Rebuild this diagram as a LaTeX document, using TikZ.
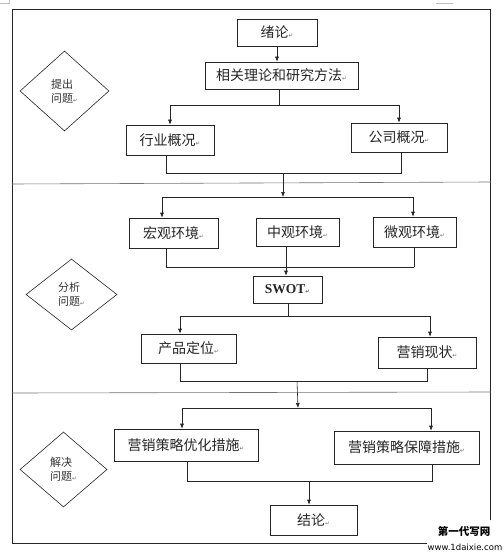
\documentclass[tikz,border=0pt]{standalone}
\usepackage{fontspec}
\newfontfamily\cjk{Noto Sans CJK SC}
\newfontfamily\symf{DejaVu Sans}
\newfontfamily\tnr{Liberation Serif}
\usetikzlibrary{arrows.meta,shapes.geometric}
\newcommand{\parmk}{{\symf\fontsize{5.5}{5.5}\selectfont\textcolor{black!60}{↵}}}
\begin{document}
\begin{tikzpicture}[x=1pt,y=-1pt,
  ln/.style={line width=0.6pt, draw=black!85},
  arr/.style={ln, -{Latex[length=5pt,width=4pt]}},
  box/.style={draw=black!85, line width=0.6pt, inner sep=0pt, text=black!85,
    font=\cjk\fontsize{14}{16}\selectfont},
  dia/.style={draw=black!85, diamond, line width=0.6pt, inner sep=0pt, align=left, text=black!80,
    font=\cjk\fontsize{11}{14}\selectfont},
  sep/.style={line width=0.6pt, draw=black!55},
  crop/.style={line width=0.5pt, draw=black!25}]
\useasboundingbox (0,0) rectangle (503,559);
\fill[white] (0,0) rectangle (503,559);
% crop marks
\draw[crop] (0,3) -- (9,3) -- (9,0);
\draw[crop] (436,3) -- (453,3);
% frame
\draw[ln] (490.7,520) -- (490.7,9.5) -- (12,9.5) -- (12,543) -- (497,543);
\draw[sep] (12,184) -- (490.7,182);
\draw[sep] (12,393) -- (490.7,392);

% section 1
\node[box, minimum width=80pt, minimum height=27pt] (intro) at (277,32.5) {绪论\parmk};
\node[box, minimum width=153pt, minimum height=27pt] (theory) at (281.5,75.5) {相关理论和研究方法\parmk};
\node[box, minimum width=88pt, minimum height=30pt] (industry) at (170,140) {行业概况\parmk};
\node[box, minimum width=96pt, minimum height=29pt] (company) at (399,137.5) {公司概况\parmk};
\node[dia, minimum width=89pt, minimum height=80pt] (d1) at (64.5,91) {提出\\问题\parmk};

\draw[arr] (intro.south) -- (intro.south |- theory.north);
\coordinate (j1) at (279,105);
\draw[ln] (j1 |- theory.south) -- (j1);
\draw[arr] (j1) -| (industry.north);
\draw[arr] (j1) -| (company.north);
\coordinate (j2) at (283,173);
\coordinate (j2L) at (166,173);
\coordinate (j2R) at (401,173);
\draw[ln] (j2L |- industry.south) -- (j2L) -- (j2R) -- (j2R |- company.south);

% section 2
\node[box, minimum width=89pt, minimum height=30pt] (macro) at (173.5,233) {宏观环境\parmk};
\node[box, minimum width=83pt, minimum height=28pt] (meso) at (297.5,232) {中观环境\parmk};
\node[box, minimum width=83pt, minimum height=30pt] (micro) at (414.5,232) {微观环境\parmk};
\node[box, minimum width=69pt, minimum height=27pt, font=\tnr\fontsize{13.5}{15}\selectfont\bfseries] (swot) at (287.5,289.5) {SWOT\parmk};
\node[box, minimum width=95pt, minimum height=29pt] (product) at (188.5,348.5) {产品定位\parmk};
\node[box, minimum width=98pt, minimum height=31pt] (status) at (427,352.5) {营销现状\parmk};
\node[dia, minimum width=91pt, minimum height=71pt] (d2) at (71.5,294.5) {分析\\问题\parmk};

\coordinate (j3) at (283,197);
\coordinate (j3L) at (162,197);
\coordinate (j3R) at (413,197);
\draw[arr] (j2) -- (j3);
\draw[arr] (j3) -- (j3L) -- (j3L |- macro.north);
\draw[arr] (j3) -- (j3R) -- (j3R |- micro.north);
\coordinate (j4L) at (166,267);
\coordinate (j4R) at (414,267);
\coordinate (j4) at (286,267);
\draw[ln] (j4L |- macro.south) -- (j4L) -- (j4R);
\draw[ln] (j4R |- micro.south) -- (j4R);
\draw[arr] (j4 |- meso.south) -- (j4 |- swot.north);
\coordinate (j5) at (288,316);
\coordinate (j5L) at (180,316);
\coordinate (j5R) at (430,316);
\draw[ln] (j5 |- swot.south) -- (j5);
\draw[arr] (j5) -- (j5L) -- (j5L |- product.north);
\draw[arr] (j5) -- (j5R) -- (j5R |- status.north);
\coordinate (j6L) at (180,381);
\coordinate (j6R) at (427,381);
\coordinate (j6) at (297,381);
\draw[ln] (j6L |- product.south) -- (j6L) -- (j6R) -- (j6R |- status.south);

% section 3
\node[box, minimum width=144pt, minimum height=32pt] (opt) at (186,445) {营销策略优化措施\parmk};
\node[box, minimum width=145pt, minimum height=33pt] (guar) at (406.5,447.5) {营销策略保障措施\parmk};
\node[box, minimum width=87pt, minimum height=30pt] (concl) at (313.5,520) {结论\parmk};
\node[dia, minimum width=87pt, minimum height=75pt] (d3) at (63.5,469.5) {解决\\问题\parmk};

\coordinate (j7) at (298,408);
\coordinate (j7L) at (182,408);
\coordinate (j7R) at (431,408);
\draw[arr] (j6) -- (j7);
\draw[arr] (j7) -- (j7L) -- (j7L |- opt.north);
\draw[arr] (j7) -- (j7R) -- (j7R |- guar.north);
\coordinate (j8L) at (187,481);
\coordinate (j8R) at (432,481);
\coordinate (j8) at (309,481);
\draw[ln] (j8L |- opt.south) -- (j8L) -- (j8R) -- (j8R |- guar.south);
\draw[arr] (j8) -- (j8 |- concl.north);

% watermark
\node[fill=white, inner sep=1pt, align=center, font=\symf\bfseries\fontsize{10.5}{11}\selectfont] (wm1) at (464,531) {\cjk\bfseries 第一代写网};
\node[fill=white, inner sep=0.5pt, font=\symf\fontsize{8.5}{9}\selectfont] (wm2) at (465,547) {www.1daixie.com};
\end{tikzpicture}
\end{document}
